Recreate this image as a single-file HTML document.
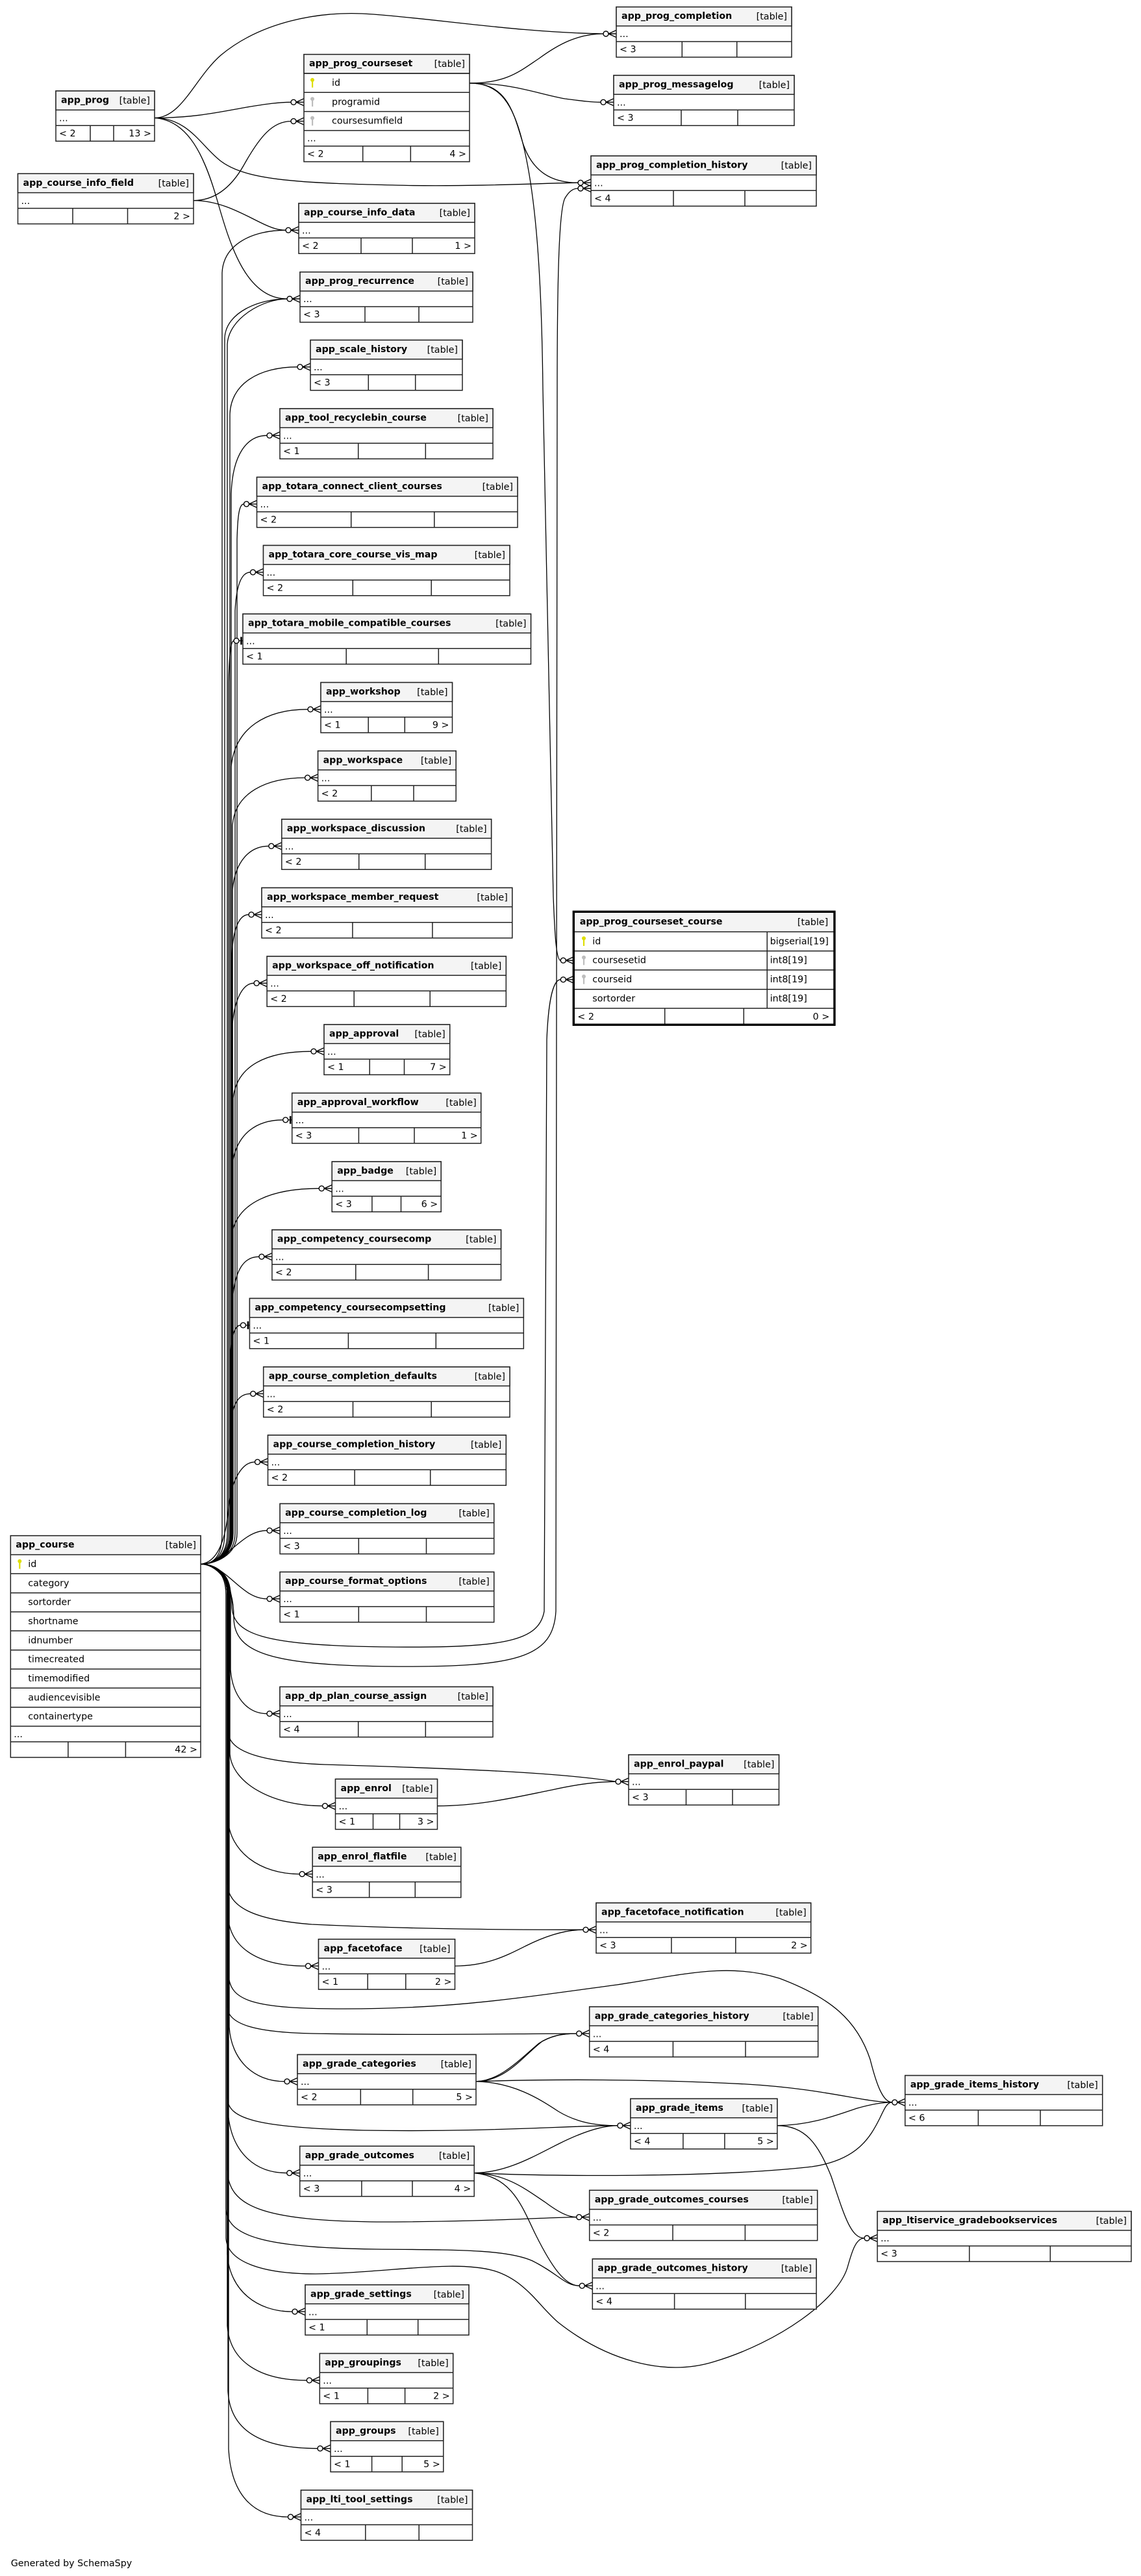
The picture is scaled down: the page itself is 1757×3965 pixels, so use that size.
<!DOCTYPE html>
<html><head><meta charset="utf-8"><title>SchemaSpy relationships – app_course</title>
<style>
html,body{margin:0;padding:0;background:#fff;}
body{width:1757px;height:3965px;overflow:hidden;}
svg{display:block;}
text{font-family:"DejaVu Sans","Liberation Sans",sans-serif;font-size:14.3px;fill:#000;}
.n{font-weight:bold;font-size:14.2px;}
.tb{text-anchor:end;}
.r{text-anchor:end;}
.o{fill:#fff;stroke:#222;stroke-width:1.5;}
.hd{fill:#f4f4f4;stroke:#222;stroke-width:1.5;}
.ln{fill:none;stroke:#222;stroke-width:1.5;}
.e{fill:none;stroke:#000;stroke-width:1.3;}
.pk{fill:#dede00;}
.fk{fill:#bdbdbd;}
</style></head>
<body>
<svg xmlns="http://www.w3.org/2000/svg" xmlns:xlink="http://www.w3.org/1999/xlink" width="1757" height="3965" viewBox="0 0 1757 3965">
<defs>
<g id="cf"><path d="M-12,0L0,-5.5M-12,0L0,0M-12,0L0,5.5" stroke="#000" stroke-width="1.4" fill="none"/><circle cx="-16" cy="0" r="4" fill="#fff" stroke="#000" stroke-width="1.4"/></g>
<g id="zo"><path d="M-6,0H0" stroke="#000" stroke-width="1.3"/><path d="M-2.5,-6V6" stroke="#000" stroke-width="2.6"/><circle cx="-10" cy="0" r="4" fill="#fff" stroke="#000" stroke-width="1.4"/></g>
</defs>

<!-- ============ EDGES ============ -->
<g>
<path class="e" d="M238,181.5 C280,181.5 300,120 340,85 C400,35 490,15 575,22 C680,30 800,50 929,52"/>
<path class="e" d="M238,181.5 C300,181.5 340,172 380,165 C410,160 430,157.3 448,157.3"/>
<path class="e" d="M238,181.5 C290,181.5 310,225 340,248 C380,278 460,282 630,285.5 C750,287 850,281.3 890,281.3"/>
<path class="e" d="M238,181.5 C290,185 315,240 335,310 C355,380 380,460 442,460"/>
<path class="e" d="M298,308.6 C330,308.6 355,290 375,255 C400,210 420,186.6 448,186.6"/>
<path class="e" d="M298,308.6 C340,308.6 375,330 400,342 C420,352 430,354.3 440,354.3"/>
<path class="e" d="M723,128 C780,128 800,110 830,90 C860,68 890,52 929,52"/>
<path class="e" d="M723,128 C790,128 830,145 870,152 C900,156 912,157.3 925,157.3"/>
<path class="e" d="M723,128 C780,128 790,170 805,220 C820,265 850,281.3 890,281.3"/>
<path class="e" d="M723,128 C770,128 790,160 805,220 C825,300 834,420 836,600 L852,1380 C854,1430 856,1478.3 863.3,1478.3"/>

<!-- app_course upward -->
<path class="e" d="M309,2407.5 C330,2407.5 342,2395 342,2360 L342,420 C344,375 390,354.3 440,354.3"/>
<path class="e" d="M309,2407.5 C330,2407.5 346,2395 346,2360 L346,520 C348,480 400,460 442,460"/>
<path class="e" d="M309,2407.5 C330,2407.5 350,2395 350,2360 L350,530 C352,490 405,460 442,460"/>
<path class="e" d="M309,2407.5 C330,2407.5 354,2395 354,2360 L354,640 C354,590 400,564.8 458,564.8"/>
<path class="e" d="M309,2407.5 C330,2407.5 356,2395 356,2360 L356,760 C358,700 380,670.3 411,670.3"/>
<path class="e" d="M309,2407.5 C330,2407.5 365,2395 365,2360 L365,830 C366,795 368,775.8 375.5,775.8"/>
<path class="e" d="M309,2407.5 C330,2407.5 362,2395 362,2360 L362,940 C364,900 372,880.8 385.5,880.8"/>
<path class="e" d="M309,2407.5 C330,2407.5 352,2395 352,2360 L352,1050 C353,1010 355,986.3 360,986.3"/>
<path class="e" d="M309,2407.5 C330,2407.5 356,2395 356,2360 L356,1180 C362,1120 410,1091.8 474,1091.8"/>
<path class="e" d="M309,2407.5 C330,2407.5 358,2395 358,2360 L358,1270 C362,1220 410,1197.1 469.6,1197.1"/>
<path class="e" d="M309,2407.5 C330,2407.5 358,2395 358,2360 L358,1370 C362,1325 385,1302.3 413.8,1302.3"/>
<path class="e" d="M309,2407.5 C330,2407.5 357,2395 357,2360 L357,1470 C359,1430 368,1407.8 383,1407.8"/>
<path class="e" d="M309,2407.5 C330,2407.5 358,2395 358,2360 L358,1575 C362,1535 375,1513.3 391.1,1513.3"/>
<path class="e" d="M309,2407.5 C330,2407.5 359,2395 359,2360 L359,1690 C365,1640 410,1618.3 479,1618.3"/>
<path class="e" d="M309,2407.5 C330,2407.5 358,2395 358,2360 L358,1790 C365,1745 395,1723.8 435.7,1723.8"/>
<path class="e" d="M309,2407.5 C330,2407.5 357,2395 357,2360 L357,1900 C365,1850 420,1829.3 491.2,1829.3"/>
<path class="e" d="M309,2407.5 C330,2407.5 358,2395 358,2360 L358,2000 C362,1955 375,1934.3 398.9,1934.3"/>
<path class="e" d="M309,2407.5 C330,2407.5 355,2395 355,2360 L355,2080 C357,2055 362,2039.8 370.4,2039.8"/>
<path class="e" d="M309,2407.5 C330,2407.5 356,2395 356,2360 L356,2190 C358,2160 368,2145.3 385.7,2145.3"/>
<path class="e" d="M309,2407.5 C335,2405 348,2370 352,2320 C356,2280 372,2250.3 392.5,2250.3"/>
<path class="e" d="M309,2407.5 C350,2407.5 370,2355.8 411.1,2355.8"/>
<path class="e" d="M309,2407.5 C350,2407.5 370,2460.9 411.1,2460.9"/>

<!-- app_course downward -->
<path class="e" d="M309,2407.5 C330,2407.5 355,2420 355,2455 L355,2570 C358,2610 380,2637.7 411,2637.7"/>
<path class="e" d="M309,2407.5 C330,2407.5 354,2420 354,2455 L354,2700 C358,2745 420,2779.7 496.5,2779.7"/>
<path class="e" d="M309,2407.5 C330,2407.5 351,2420 351,2455 L351,2800 C354,2850 400,2884.6 461.2,2884.6"/>
<path class="e" d="M309,2407.5 C330,2407.5 351,2420 351,2455 L351,2950 C355,3000 400,3026.1 470.5,3026.1"/>
<path class="e" d="M309,2407.5 C330,2407.5 353,2420 353,2455 L353,3120 C356,3170 390,3203.8 438,3203.8"/>
<path class="e" d="M309,2407.5 C330,2407.5 351,2420 351,2455 L351,3250 C355,3310 390,3344.7 441.7,3344.7"/>
<path class="e" d="M309,2407.5 C330,2407.5 350,2420 350,2455 L350,3470 C354,3525 395,3558.1 450,3558.1"/>
<path class="e" d="M309,2407.5 C330,2407.5 350,2420 350,2455 L350,3580 C354,3635 400,3663.8 472.3,3663.8"/>
<path class="e" d="M309,2407.5 C330,2407.5 351,2420 351,2455 L351,3680 C354,3740 400,3768.7 489,3768.7"/>
<path class="e" d="M309,2407.5 C330,2407.5 352,2420 352,2455 L352,3770 C356,3840 390,3874.1 443.5,3874.1"/>
<path class="e" d="M309,2407.5 C330,2407.5 352,2420 352,2455 L352,2670 C356,2695 400,2712 500,2716 C700,2722 860,2728 948,2742.3"/>
<path class="e" d="M309,2407.5 C330,2407.5 350,2420 350,2455 L350,2900 C352,2935 390,2955 480,2962 C650,2970 800,2970.3 898,2970.3"/>
<path class="e" d="M309,2407.5 C330,2407.5 350,2420 350,2455 L350,3090 C352,3115 390,3128 480,3130 C650,3133 800,3130.1 887.7,3130.1"/>
<path class="e" d="M309,2407.5 C330,2407.5 352,2420 352,2455 L352,3040 C354,3080 390,3092 530,3092 C700,3092 800,3075 950,3055 C1050,3040 1120,3020 1200,3045 C1280,3075 1320,3110 1340,3170 C1350,3210 1360,3235.9 1373.7,3235.9"/>
<path class="e" d="M309,2407.5 C330,2407.5 350,2420 350,2455 L350,3230 C352,3260 390,3275 560,3279 C750,3282 880,3271.7 950.9,3271.7"/>
<path class="e" d="M309,2407.5 C330,2407.5 350,2420 350,2455 L350,3340 C352,3395 400,3418 580,3420 C750,3420 850,3412.6 887.7,3412.6"/>
<path class="e" d="M309,2407.5 C330,2407.5 348,2420 348,2455 L348,3400 C350,3440 400,3460 580,3462 C700,3463 780,3462 820,3480 C860,3500 870,3518.3 892.3,3518.3"/>
<path class="e" d="M309,2407.5 C330,2407.5 348,2420 348,2455 L348,3445 C350,3480 400,3500 486,3500 C600,3498 700,3478 760,3495 C810,3510 830,3550 860,3575 C930,3630 1020,3660 1100,3635 C1200,3605 1290,3540 1305,3490 C1312,3465 1318,3445 1331,3445"/>
<path class="e" d="M309,2407.5 C330,2407.5 357,2425 357,2470 C357,2515 400,2533 600,2535 C780,2537 830,2525 838,2480 L842,1600 C844,1550 850,1507.8 863.3,1507.8"/>
<path class="e" d="M309,2407.5 C330,2407.5 360,2430 360,2490 C360,2545 420,2563 600,2565 C800,2567 852,2550 856,2480 L858,600 C858,400 862,320 870,305 C876,295 882,290 890,290"/>

<!-- other parents -->
<path class="e" d="M673.5,2779.7 C740,2779.7 800,2765 850,2755 C890,2746 920,2742.3 948,2742.3"/>
<path class="e" d="M700.5,3026.1 C750,3026 780,3010 810,2995 C840,2980 870,2970.3 898,2970.3"/>
<path class="e" d="M733,3203.8 C770,3203 800,3170 830,3145 C850,3132 870,3130.1 887.7,3130.1"/>
<path class="e" d="M733,3203.8 C780,3203 805,3165 835,3142 C855,3131 872,3130.1 887.7,3130.1"/>
<path class="e" d="M733,3203.8 C850,3200 1000,3200 1150,3208 C1270,3215 1330,3235.9 1373.7,3235.9"/>
<path class="e" d="M733,3203.8 C790,3205 830,3230 860,3250 C890,3268 920,3271.7 950.9,3271.7"/>
<path class="e" d="M730.2,3344.7 C780,3344 820,3320 860,3300 C900,3280 930,3271.7 950.9,3271.7"/>
<path class="e" d="M730.2,3344.7 C850,3350 1100,3352 1250,3335 C1320,3325 1340,3290 1355,3260 C1362,3245 1366,3235.9 1373.7,3235.9"/>
<path class="e" d="M1196.9,3271.7 C1250,3271 1290,3255 1320,3245 C1345,3238 1360,3235.9 1373.7,3235.9"/>
<path class="e" d="M1196.9,3271.7 C1240,3271.7 1260,3300 1280,3350 C1300,3410 1310,3445 1331,3445"/>
<path class="e" d="M730.2,3344.7 C780,3346 810,3370 840,3390 C860,3405 875,3412.6 887.7,3412.6"/>
<path class="e" d="M730.2,3344.7 C790,3350 805,3400 825,3440 C850,3490 870,3518.3 892.3,3518.3"/>
</g>

<!-- ============ MARKERS ============ -->
<g>
<use xlink:href="#cf" href="#cf" x="949" y="52"/>
<use xlink:href="#cf" href="#cf" x="945" y="157.3"/>
<use xlink:href="#cf" href="#cf" x="910" y="281.3"/>
<use xlink:href="#cf" href="#cf" x="910" y="290"/>
<use xlink:href="#cf" href="#cf" x="468" y="157.3"/>
<use xlink:href="#cf" href="#cf" x="468" y="186.6"/>
<use xlink:href="#cf" href="#cf" x="460" y="354.3"/>
<use xlink:href="#cf" href="#cf" x="462" y="460"/>
<use xlink:href="#cf" href="#cf" x="478" y="564.8"/>
<use xlink:href="#cf" href="#cf" x="431" y="670.3"/>
<use xlink:href="#cf" href="#cf" x="395.5" y="775.8"/>
<use xlink:href="#cf" href="#cf" x="405.5" y="880.8"/>
<use xlink:href="#zo" href="#zo" x="374" y="986.3"/>
<use xlink:href="#cf" href="#cf" x="494" y="1091.8"/>
<use xlink:href="#cf" href="#cf" x="489.6" y="1197.1"/>
<use xlink:href="#cf" href="#cf" x="433.8" y="1302.3"/>
<use xlink:href="#cf" href="#cf" x="403" y="1407.8"/>
<use xlink:href="#cf" href="#cf" x="411.1" y="1513.3"/>
<use xlink:href="#cf" href="#cf" x="499" y="1618.3"/>
<use xlink:href="#zo" href="#zo" x="449.7" y="1723.8"/>
<use xlink:href="#cf" href="#cf" x="511.2" y="1829.3"/>
<use xlink:href="#cf" href="#cf" x="418.9" y="1934.3"/>
<use xlink:href="#zo" href="#zo" x="384.4" y="2039.8"/>
<use xlink:href="#cf" href="#cf" x="405.7" y="2145.3"/>
<use xlink:href="#cf" href="#cf" x="412.5" y="2250.3"/>
<use xlink:href="#cf" href="#cf" x="431.1" y="2355.8"/>
<use xlink:href="#cf" href="#cf" x="431.1" y="2460.9"/>
<use xlink:href="#cf" href="#cf" x="883.3" y="1478.3"/>
<use xlink:href="#cf" href="#cf" x="883.3" y="1507.8"/>
<use xlink:href="#cf" href="#cf" x="431" y="2637.7"/>
<use xlink:href="#cf" href="#cf" x="516.5" y="2779.7"/>
<use xlink:href="#cf" href="#cf" x="481.2" y="2884.6"/>
<use xlink:href="#cf" href="#cf" x="490.5" y="3026.1"/>
<use xlink:href="#cf" href="#cf" x="458" y="3203.8"/>
<use xlink:href="#cf" href="#cf" x="461.7" y="3344.7"/>
<use xlink:href="#cf" href="#cf" x="470" y="3558.1"/>
<use xlink:href="#cf" href="#cf" x="492.3" y="3663.8"/>
<use xlink:href="#cf" href="#cf" x="509" y="3768.7"/>
<use xlink:href="#cf" href="#cf" x="463.5" y="3874.1"/>
<use xlink:href="#cf" href="#cf" x="968" y="2742.3"/>
<use xlink:href="#cf" href="#cf" x="918" y="2970.3"/>
<use xlink:href="#cf" href="#cf" x="907.7" y="3130.1"/>
<use xlink:href="#cf" href="#cf" x="970.9" y="3271.7"/>
<use xlink:href="#cf" href="#cf" x="907.7" y="3412.6"/>
<use xlink:href="#cf" href="#cf" x="912.3" y="3518.3"/>
<use xlink:href="#cf" href="#cf" x="1393.7" y="3235.9"/>
<use xlink:href="#cf" href="#cf" x="1351" y="3445"/>
</g>

<!-- ============ TABLES ============ -->
<!-- app_prog -->
<g transform="translate(86,140)"><rect class="o" width="152" height="77.3"/><rect class="hd" width="152" height="29.3"/><path class="ln" d="M0,53.3H152M53,53.3V77.3M89,53.3V77.3"/><text class="n" x="8" y="18.5">app_prog</text><text class="tb" x="145" y="19.5">[table]</text><text x="5" y="46.5">...</text><text x="5" y="70">&lt; 2</text><text class="r" x="147" y="70">13 &gt;</text></g>

<!-- app_course_info_field -->
<g transform="translate(27.5,267.3)"><rect class="o" width="270.5" height="77.3"/><rect class="hd" width="270.5" height="29.3"/><path class="ln" d="M0,53.3H270.5M84.5,53.3V77.3M169,53.3V77.3"/><text class="n" x="8" y="18.5">app_course_info_field</text><text class="tb" x="263.5" y="19.5">[table]</text><text x="5" y="46.5">...</text><text class="r" x="265.5" y="70">2 &gt;</text></g>

<!-- app_prog_courseset -->
<g transform="translate(468,83.7)"><rect class="o" width="255" height="165.2"/><rect class="hd" width="255" height="29.3"/><path class="ln" d="M0,29.3H255M0,58.6H255M0,87.9H255M0,117.2H255M0,141.2H255M90.7,141.2V165.2M164.3,141.2V165.2"/><text class="n" x="8" y="18.5">app_prog_courseset</text><text class="tb" x="248" y="19.5">[table]</text>
<g class="pk"><circle cx="13" cy="39.3" r="3"/><rect x="12" y="40" width="2.2" height="11"/></g>
<g class="fk"><circle cx="13" cy="68.6" r="3"/><rect x="12" y="69.3" width="2.2" height="11"/></g>
<g class="fk"><circle cx="13" cy="97.9" r="3"/><rect x="12" y="98.6" width="2.2" height="11"/></g>
<text x="43" y="48.3">id</text><text x="43" y="77.6">programid</text><text x="43" y="106.9">coursesumfield</text><text x="5" y="134">...</text><text x="5" y="158">&lt; 2</text><text class="r" x="250" y="158">4 &gt;</text></g>

<!-- app_prog_completion -->
<g transform="translate(949,10.7)"><rect class="o" width="270" height="77.3"/><rect class="hd" width="270" height="29.3"/><path class="ln" d="M0,53.3H270M101.3,53.3V77.3M185.7,53.3V77.3"/><text class="n" x="8" y="18.5">app_prog_completion</text><text class="tb" x="263" y="19.5">[table]</text><text x="5" y="46.5">...</text><text x="5" y="70">&lt; 3</text></g>

<!-- app_prog_messagelog -->
<g transform="translate(945,116)"><rect class="o" width="278" height="77.3"/><rect class="hd" width="278" height="29.3"/><path class="ln" d="M0,53.3H278M104,53.3V77.3M191,53.3V77.3"/><text class="n" x="8" y="18.5">app_prog_messagelog</text><text class="tb" x="271" y="19.5">[table]</text><text x="5" y="46.5">...</text><text x="5" y="70">&lt; 3</text></g>

<!-- app_prog_completion_history -->
<g transform="translate(910,240)"><rect class="o" width="347" height="77.3"/><rect class="hd" width="347" height="29.3"/><path class="ln" d="M0,53.3H347M127,53.3V77.3M237,53.3V77.3"/><text class="n" x="8" y="18.5">app_prog_completion_history</text><text class="tb" x="340" y="19.5">[table]</text><text x="5" y="46.5">...</text><text x="5" y="70">&lt; 4</text></g>

<!-- app_course_info_data -->
<g transform="translate(460,313)"><rect class="o" width="271" height="77.3"/><rect class="hd" width="271" height="29.3"/><path class="ln" d="M0,53.3H271M96,53.3V77.3M175,53.3V77.3"/><text class="n" x="8" y="18.5">app_course_info_data</text><text class="tb" x="264" y="19.5">[table]</text><text x="5" y="46.5">...</text><text x="5" y="70">&lt; 2</text><text class="r" x="266" y="70">1 &gt;</text></g>

<!-- app_prog_recurrence -->
<g transform="translate(462,418.7)"><rect class="o" width="266" height="77.3"/><rect class="hd" width="266" height="29.3"/><path class="ln" d="M0,53.3H266M100,53.3V77.3M183,53.3V77.3"/><text class="n" x="8" y="18.5">app_prog_recurrence</text><text class="tb" x="259" y="19.5">[table]</text><text x="5" y="46.5">...</text><text x="5" y="70">&lt; 3</text></g>

<!-- app_scale_history -->
<g transform="translate(478,523.5)"><rect class="o" width="234" height="77.3"/><rect class="hd" width="234" height="29.3"/><path class="ln" d="M0,53.3H234M89.3,53.3V77.3M161.7,53.3V77.3"/><text class="n" x="8" y="18.5">app_scale_history</text><text class="tb" x="227" y="19.5">[table]</text><text x="5" y="46.5">...</text><text x="5" y="70">&lt; 3</text></g>

<!-- app_tool_recyclebin_course -->
<g transform="translate(431,629)"><rect class="o" width="328" height="77.3"/><rect class="hd" width="328" height="29.3"/><path class="ln" d="M0,53.3H328M120.7,53.3V77.3M224.3,53.3V77.3"/><text class="n" x="8" y="18.5">app_tool_recyclebin_course</text><text class="tb" x="321" y="19.5">[table]</text><text x="5" y="46.5">...</text><text x="5" y="70">&lt; 1</text></g>

<!-- app_totara_connect_client_courses -->
<g transform="translate(395.5,734.5)"><rect class="o" width="401.5" height="77.3"/><rect class="hd" width="401.5" height="29.3"/><path class="ln" d="M0,53.3H401.5M145.2,53.3V77.3M273.3,53.3V77.3"/><text class="n" x="8" y="18.5">app_totara_connect_client_courses</text><text class="tb" x="394.5" y="19.5">[table]</text><text x="5" y="46.5">...</text><text x="5" y="70">&lt; 2</text></g>

<!-- app_totara_core_course_vis_map -->
<g transform="translate(405.5,839.5)"><rect class="o" width="379.5" height="77.3"/><rect class="hd" width="379.5" height="29.3"/><path class="ln" d="M0,53.3H379.5M137.8,53.3V77.3M258.7,53.3V77.3"/><text class="n" x="8" y="18.5">app_totara_core_course_vis_map</text><text class="tb" x="372.5" y="19.5">[table]</text><text x="5" y="46.5">...</text><text x="5" y="70">&lt; 2</text></g>

<!-- app_totara_mobile_compatible_courses -->
<g transform="translate(374,945)"><rect class="o" width="443.5" height="77.3"/><rect class="hd" width="443.5" height="29.3"/><path class="ln" d="M0,53.3H443.5M159.2,53.3V77.3M301.3,53.3V77.3"/><text class="n" x="8" y="18.5">app_totara_mobile_compatible_courses</text><text class="tb" x="436.5" y="19.5">[table]</text><text x="5" y="46.5">...</text><text x="5" y="70">&lt; 1</text></g>

<!-- app_workshop -->
<g transform="translate(494,1050.5)"><rect class="o" width="202.5" height="77.3"/><rect class="hd" width="202.5" height="29.3"/><path class="ln" d="M0,53.3H202.5M73.2,53.3V77.3M129.3,53.3V77.3"/><text class="n" x="8" y="18.5">app_workshop</text><text class="tb" x="195.5" y="19.5">[table]</text><text x="5" y="46.5">...</text><text x="5" y="70">&lt; 1</text><text class="r" x="197.5" y="70">9 &gt;</text></g>

<!-- app_workspace -->
<g transform="translate(489.6,1155.8)"><rect class="o" width="212.6" height="77.3"/><rect class="hd" width="212.6" height="29.3"/><path class="ln" d="M0,53.3H212.6M82.2,53.3V77.3M147.4,53.3V77.3"/><text class="n" x="8" y="18.5">app_workspace</text><text class="tb" x="205.6" y="19.5">[table]</text><text x="5" y="46.5">...</text><text x="5" y="70">&lt; 2</text></g>

<!-- app_workspace_discussion -->
<g transform="translate(433.8,1261)"><rect class="o" width="322.8" height="77.3"/><rect class="hd" width="322.8" height="29.3"/><path class="ln" d="M0,53.3H322.8M118.9,53.3V77.3M220.9,53.3V77.3"/><text class="n" x="8" y="18.5">app_workspace_discussion</text><text class="tb" x="315.8" y="19.5">[table]</text><text x="5" y="46.5">...</text><text x="5" y="70">&lt; 2</text></g>

<!-- app_workspace_member_request -->
<g transform="translate(403,1366.5)"><rect class="o" width="385.8" height="77.3"/><rect class="hd" width="385.8" height="29.3"/><path class="ln" d="M0,53.3H385.8M139.9,53.3V77.3M262.9,53.3V77.3"/><text class="n" x="8" y="18.5">app_workspace_member_request</text><text class="tb" x="378.8" y="19.5">[table]</text><text x="5" y="46.5">...</text><text x="5" y="70">&lt; 2</text></g>

<!-- app_workspace_off_notification -->
<g transform="translate(411.1,1472)"><rect class="o" width="368.2" height="77.3"/><rect class="hd" width="368.2" height="29.3"/><path class="ln" d="M0,53.3H368.2M134.1,53.3V77.3M251.1,53.3V77.3"/><text class="n" x="8" y="18.5">app_workspace_off_notification</text><text class="tb" x="361.2" y="19.5">[table]</text><text x="5" y="46.5">...</text><text x="5" y="70">&lt; 2</text></g>

<!-- app_approval -->
<g transform="translate(499,1577)"><rect class="o" width="193.7" height="77.3"/><rect class="hd" width="193.7" height="29.3"/><path class="ln" d="M0,53.3H193.7M70.2,53.3V77.3M123.5,53.3V77.3"/><text class="n" x="8" y="18.5">app_approval</text><text class="tb" x="186.7" y="19.5">[table]</text><text x="5" y="46.5">...</text><text x="5" y="70">&lt; 1</text><text class="r" x="188.7" y="70">7 &gt;</text></g>

<!-- app_approval_workflow -->
<g transform="translate(449.7,1682.5)"><rect class="o" width="291" height="77.3"/><rect class="hd" width="291" height="29.3"/><path class="ln" d="M0,53.3H291M102.7,53.3V77.3M188.3,53.3V77.3"/><text class="n" x="8" y="18.5">app_approval_workflow</text><text class="tb" x="284" y="19.5">[table]</text><text x="5" y="46.5">...</text><text x="5" y="70">&lt; 3</text><text class="r" x="286" y="70">1 &gt;</text></g>

<!-- app_badge -->
<g transform="translate(511.2,1788)"><rect class="o" width="168" height="77.3"/><rect class="hd" width="168" height="29.3"/><path class="ln" d="M0,53.3H168M61.7,53.3V77.3M106.3,53.3V77.3"/><text class="n" x="8" y="18.5">app_badge</text><text class="tb" x="161" y="19.5">[table]</text><text x="5" y="46.5">...</text><text x="5" y="70">&lt; 3</text><text class="r" x="163" y="70">6 &gt;</text></g>

<!-- app_competency_coursecomp -->
<g transform="translate(418.9,1893)"><rect class="o" width="352.6" height="77.3"/><rect class="hd" width="352.6" height="29.3"/><path class="ln" d="M0,53.3H352.6M128.9,53.3V77.3M240.7,53.3V77.3"/><text class="n" x="8" y="18.5">app_competency_coursecomp</text><text class="tb" x="345.6" y="19.5">[table]</text><text x="5" y="46.5">...</text><text x="5" y="70">&lt; 2</text></g>

<!-- app_competency_coursecompsetting -->
<g transform="translate(384.4,1998.5)"><rect class="o" width="421.9" height="77.3"/><rect class="hd" width="421.9" height="29.3"/><path class="ln" d="M0,53.3H421.9M152,53.3V77.3M286.9,53.3V77.3"/><text class="n" x="8" y="18.5">app_competency_coursecompsetting</text><text class="tb" x="414.9" y="19.5">[table]</text><text x="5" y="46.5">...</text><text x="5" y="70">&lt; 1</text></g>

<!-- app_course_completion_defaults -->
<g transform="translate(405.7,2104)"><rect class="o" width="379.3" height="77.3"/><rect class="hd" width="379.3" height="29.3"/><path class="ln" d="M0,53.3H379.3M137.8,53.3V77.3M258.5,53.3V77.3"/><text class="n" x="8" y="18.5">app_course_completion_defaults</text><text class="tb" x="372.3" y="19.5">[table]</text><text x="5" y="46.5">...</text><text x="5" y="70">&lt; 2</text></g>

<!-- app_course_completion_history -->
<g transform="translate(412.5,2209)"><rect class="o" width="366.8" height="77.3"/><rect class="hd" width="366.8" height="29.3"/><path class="ln" d="M0,53.3H366.8M133.6,53.3V77.3M250.2,53.3V77.3"/><text class="n" x="8" y="18.5">app_course_completion_history</text><text class="tb" x="359.8" y="19.5">[table]</text><text x="5" y="46.5">...</text><text x="5" y="70">&lt; 2</text></g>

<!-- app_course_completion_log -->
<g transform="translate(431.1,2314.5)"><rect class="o" width="329.6" height="77.3"/><rect class="hd" width="329.6" height="29.3"/><path class="ln" d="M0,53.3H329.6M121.2,53.3V77.3M225.4,53.3V77.3"/><text class="n" x="8" y="18.5">app_course_completion_log</text><text class="tb" x="322.6" y="19.5">[table]</text><text x="5" y="46.5">...</text><text x="5" y="70">&lt; 3</text></g>

<!-- app_course_format_options -->
<g transform="translate(431.1,2419.6)"><rect class="o" width="329.6" height="77.3"/><rect class="hd" width="329.6" height="29.3"/><path class="ln" d="M0,53.3H329.6M121.2,53.3V77.3M225.4,53.3V77.3"/><text class="n" x="8" y="18.5">app_course_format_options</text><text class="tb" x="322.6" y="19.5">[table]</text><text x="5" y="46.5">...</text><text x="5" y="70">&lt; 1</text></g>

<!-- app_prog_courseset_course -->
<g transform="translate(883.3,1403.3)"><rect x="0" y="0" width="401.7" height="174" fill="#fff"/><rect class="hd" width="401.7" height="31"/><path class="ln" d="M0,60.4H401.7M0,89.7H401.7M0,119.4H401.7M0,148.7H401.7M298,31V148.7M140.4,148.7V174M262,148.7V174"/>
<rect x="0" y="0" width="401.7" height="174" fill="none" stroke="#000" stroke-width="3.4"/>
<text class="n" x="9.5" y="19.5">app_prog_courseset_course</text><text class="tb" x="392" y="20.5">[table]</text>
<g class="pk"><circle cx="15.7" cy="41" r="3"/><rect x="14.6" y="41.7" width="2.2" height="11"/></g>
<g class="fk"><circle cx="15.7" cy="70.4" r="3"/><rect x="14.6" y="71.1" width="2.2" height="11"/></g>
<g class="fk"><circle cx="15.7" cy="99.7" r="3"/><rect x="14.6" y="100.4" width="2.2" height="11"/></g>
<text x="29" y="50">id</text><text x="29" y="79.4">coursesetid</text><text x="29" y="108.7">courseid</text><text x="29" y="138.4">sortorder</text>
<text x="302.4" y="50">bigserial[19]</text><text x="302.4" y="79.4">int8[19]</text><text x="302.4" y="108.7">int8[19]</text><text x="302.4" y="138.4">int8[19]</text>
<text x="6" y="166">&lt; 2</text><text class="r" x="394" y="166">0 &gt;</text></g>

<!-- app_course -->
<g transform="translate(16.3,2363.7)"><rect class="o" width="292.7" height="341.3"/><rect class="hd" width="292.7" height="29.3"/><path class="ln" d="M0,58.6H292.7M0,88H292.7M0,117.3H292.7M0,146.6H292.7M0,176H292.7M0,205.3H292.7M0,234.6H292.7M0,264H292.7M0,293.3H292.7M0,317.3H292.7M88.6,317.3V341.3M177.1,317.3V341.3"/>
<text class="n" x="8" y="18.5">app_course</text><text class="tb" x="285.7" y="19.5">[table]</text>
<g class="pk"><circle cx="14" cy="39.3" r="3"/><rect x="12.9" y="40" width="2.2" height="11"/></g>
<text x="27" y="48.3">id</text><text x="27" y="77.6">category</text><text x="27" y="107">sortorder</text><text x="27" y="136.3">shortname</text><text x="27" y="165.6">idnumber</text><text x="27" y="195">timecreated</text><text x="27" y="224.3">timemodified</text><text x="27" y="253.6">audiencevisible</text><text x="27" y="283">containertype</text>
<text x="5" y="310.3">...</text><text class="r" x="287.7" y="334">42 &gt;</text></g>

<!-- app_dp_plan_course_assign -->
<g transform="translate(431,2596.4)"><rect class="o" width="328" height="77.3"/><rect class="hd" width="328" height="29.3"/><path class="ln" d="M0,53.3H328M120.7,53.3V77.3M224.3,53.3V77.3"/><text class="n" x="8" y="18.5">app_dp_plan_course_assign</text><text class="tb" x="321" y="19.5">[table]</text><text x="5" y="46.5">...</text><text x="5" y="70">&lt; 4</text></g>

<!-- app_enrol_paypal -->
<g transform="translate(968,2701)"><rect class="o" width="231.5" height="77.3"/><rect class="hd" width="231.5" height="29.3"/><path class="ln" d="M0,53.3H231.5M88.5,53.3V77.3M160,53.3V77.3"/><text class="n" x="8" y="18.5">app_enrol_paypal</text><text class="tb" x="224.5" y="19.5">[table]</text><text x="5" y="46.5">...</text><text x="5" y="70">&lt; 3</text></g>

<!-- app_enrol -->
<g transform="translate(516.5,2738.4)"><rect class="o" width="157" height="77.3"/><rect class="hd" width="157" height="29.3"/><path class="ln" d="M0,53.3H157M58,53.3V77.3M99,53.3V77.3"/><text class="n" x="8" y="18.5">app_enrol</text><text class="tb" x="150" y="19.5">[table]</text><text x="5" y="46.5">...</text><text x="5" y="70">&lt; 1</text><text class="r" x="152" y="70">3 &gt;</text></g>

<!-- app_enrol_flatfile -->
<g transform="translate(481.2,2843.3)"><rect class="o" width="228.6" height="77.3"/><rect class="hd" width="228.6" height="29.3"/><path class="ln" d="M0,53.3H228.6M87.5,53.3V77.3M158.1,53.3V77.3"/><text class="n" x="8" y="18.5">app_enrol_flatfile</text><text class="tb" x="221.6" y="19.5">[table]</text><text x="5" y="46.5">...</text><text x="5" y="70">&lt; 3</text></g>

<!-- app_facetoface_notification -->
<g transform="translate(918,2929)"><rect class="o" width="330.7" height="77.3"/><rect class="hd" width="330.7" height="29.3"/><path class="ln" d="M0,53.3H330.7M115.9,53.3V77.3M214.8,53.3V77.3"/><text class="n" x="8" y="18.5">app_facetoface_notification</text><text class="tb" x="323.7" y="19.5">[table]</text><text x="5" y="46.5">...</text><text x="5" y="70">&lt; 3</text><text class="r" x="325.7" y="70">2 &gt;</text></g>

<!-- app_facetoface -->
<g transform="translate(490.5,2984.8)"><rect class="o" width="210" height="77.3"/><rect class="hd" width="210" height="29.3"/><path class="ln" d="M0,53.3H210M75.7,53.3V77.3M134.3,53.3V77.3"/><text class="n" x="8" y="18.5">app_facetoface</text><text class="tb" x="203" y="19.5">[table]</text><text x="5" y="46.5">...</text><text x="5" y="70">&lt; 1</text><text class="r" x="205" y="70">2 &gt;</text></g>

<!-- app_grade_categories_history -->
<g transform="translate(907.7,3088.8)"><rect class="o" width="352" height="77.3"/><rect class="hd" width="352" height="29.3"/><path class="ln" d="M0,53.3H352M128.7,53.3V77.3M240.3,53.3V77.3"/><text class="n" x="8" y="18.5">app_grade_categories_history</text><text class="tb" x="345" y="19.5">[table]</text><text x="5" y="46.5">...</text><text x="5" y="70">&lt; 4</text></g>

<!-- app_grade_categories -->
<g transform="translate(458,3162.5)"><rect class="o" width="275" height="77.3"/><rect class="hd" width="275" height="29.3"/><path class="ln" d="M0,53.3H275M97.3,53.3V77.3M177.7,53.3V77.3"/><text class="n" x="8" y="18.5">app_grade_categories</text><text class="tb" x="268" y="19.5">[table]</text><text x="5" y="46.5">...</text><text x="5" y="70">&lt; 2</text><text class="r" x="270" y="70">5 &gt;</text></g>

<!-- app_grade_items_history -->
<g transform="translate(1393.7,3194.6)"><rect class="o" width="304" height="77.3"/><rect class="hd" width="304" height="29.3"/><path class="ln" d="M0,53.3H304M112.7,53.3V77.3M208.3,53.3V77.3"/><text class="n" x="8" y="18.5">app_grade_items_history</text><text class="tb" x="297" y="19.5">[table]</text><text x="5" y="46.5">...</text><text x="5" y="70">&lt; 6</text></g>

<!-- app_grade_items -->
<g transform="translate(970.9,3230.4)"><rect class="o" width="226" height="77.3"/><rect class="hd" width="226" height="29.3"/><path class="ln" d="M0,53.3H226M81,53.3V77.3M145,53.3V77.3"/><text class="n" x="8" y="18.5">app_grade_items</text><text class="tb" x="219" y="19.5">[table]</text><text x="5" y="46.5">...</text><text x="5" y="70">&lt; 4</text><text class="r" x="221" y="70">5 &gt;</text></g>

<!-- app_grade_outcomes -->
<g transform="translate(461.7,3303.4)"><rect class="o" width="268.5" height="77.3"/><rect class="hd" width="268.5" height="29.3"/><path class="ln" d="M0,53.3H268.5M95.2,53.3V77.3M173.3,53.3V77.3"/><text class="n" x="8" y="18.5">app_grade_outcomes</text><text class="tb" x="261.5" y="19.5">[table]</text><text x="5" y="46.5">...</text><text x="5" y="70">&lt; 3</text><text class="r" x="263.5" y="70">4 &gt;</text></g>

<!-- app_grade_outcomes_courses -->
<g transform="translate(907.7,3371.3)"><rect class="o" width="351" height="77.3"/><rect class="hd" width="351" height="29.3"/><path class="ln" d="M0,53.3H351M128.3,53.3V77.3M239.7,53.3V77.3"/><text class="n" x="8" y="18.5">app_grade_outcomes_courses</text><text class="tb" x="344" y="19.5">[table]</text><text x="5" y="46.5">...</text><text x="5" y="70">&lt; 2</text></g>

<!-- app_ltiservice_gradebookservices -->
<g transform="translate(1351,3403.7)"><rect class="o" width="391" height="77.3"/><rect class="hd" width="391" height="29.3"/><path class="ln" d="M0,53.3H391M141.7,53.3V77.3M266.3,53.3V77.3"/><text class="n" x="8" y="18.5">app_ltiservice_gradebookservices</text><text class="tb" x="384" y="19.5">[table]</text><text x="5" y="46.5">...</text><text x="5" y="70">&lt; 3</text></g>

<!-- app_grade_outcomes_history -->
<g transform="translate(912.3,3477)"><rect class="o" width="344.8" height="77.3"/><rect class="hd" width="344.8" height="29.3"/><path class="ln" d="M0,53.3H344.8M126.3,53.3V77.3M235.5,53.3V77.3"/><text class="n" x="8" y="18.5">app_grade_outcomes_history</text><text class="tb" x="337.8" y="19.5">[table]</text><text x="5" y="46.5">...</text><text x="5" y="70">&lt; 4</text></g>

<!-- app_grade_settings -->
<g transform="translate(470,3516.8)"><rect class="o" width="252" height="77.3"/><rect class="hd" width="252" height="29.3"/><path class="ln" d="M0,53.3H252M95.3,53.3V77.3M173.7,53.3V77.3"/><text class="n" x="8" y="18.5">app_grade_settings</text><text class="tb" x="245" y="19.5">[table]</text><text x="5" y="46.5">...</text><text x="5" y="70">&lt; 1</text></g>

<!-- app_groupings -->
<g transform="translate(492.3,3622.5)"><rect class="o" width="205.4" height="77.3"/><rect class="hd" width="205.4" height="29.3"/><path class="ln" d="M0,53.3H205.4M74.1,53.3V77.3M131.3,53.3V77.3"/><text class="n" x="8" y="18.5">app_groupings</text><text class="tb" x="198.4" y="19.5">[table]</text><text x="5" y="46.5">...</text><text x="5" y="70">&lt; 1</text><text class="r" x="200.4" y="70">2 &gt;</text></g>

<!-- app_groups -->
<g transform="translate(509,3727.4)"><rect class="o" width="173.8" height="77.3"/><rect class="hd" width="173.8" height="29.3"/><path class="ln" d="M0,53.3H173.8M63.6,53.3V77.3M110.2,53.3V77.3"/><text class="n" x="8" y="18.5">app_groups</text><text class="tb" x="166.8" y="19.5">[table]</text><text x="5" y="46.5">...</text><text x="5" y="70">&lt; 1</text><text class="r" x="168.8" y="70">5 &gt;</text></g>

<!-- app_lti_tool_settings -->
<g transform="translate(463.5,3832.8)"><rect class="o" width="264" height="77.3"/><rect class="hd" width="264" height="29.3"/><path class="ln" d="M0,53.3H264M99.3,53.3V77.3M181.7,53.3V77.3"/><text class="n" x="8" y="18.5">app_lti_tool_settings</text><text class="tb" x="257" y="19.5">[table]</text><text x="5" y="46.5">...</text><text x="5" y="70">&lt; 4</text></g>

<text x="16.7" y="3950">Generated by SchemaSpy</text>
</svg>
</body></html>
